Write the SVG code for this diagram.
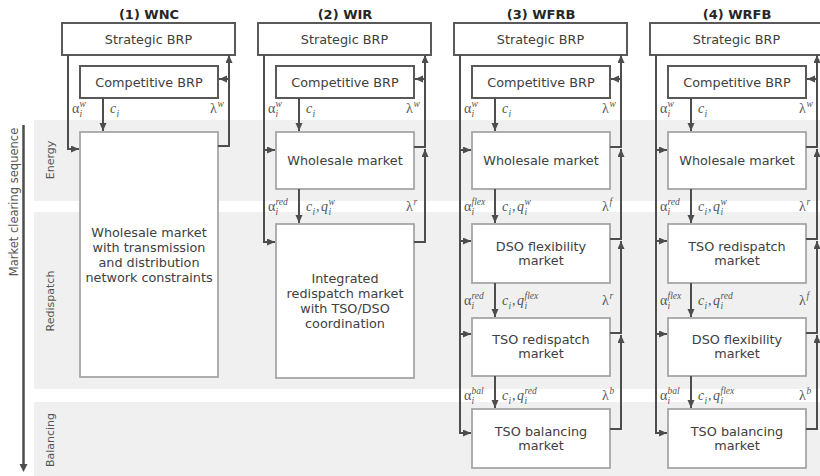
<svg xmlns="http://www.w3.org/2000/svg" width="820" height="476" viewBox="0 0 820 476">
  <defs>
    <style>
      .band { fill: #f0f0f0; }
      .brp { fill: #ffffff; stroke: #595959; stroke-width: 2; }
      .mk { fill: #ffffff; stroke: #a6a6a6; stroke-width: 1.8; }
      .t { font-family: "DejaVu Sans", Verdana, sans-serif; font-size: 12.8px; fill: #404040; text-anchor: middle; }
      .h { font-family: "DejaVu Sans", Verdana, sans-serif; font-size: 13px; font-weight: bold; fill: #262626; text-anchor: middle; }
      .side { font-family: "DejaVu Sans", Verdana, sans-serif; font-size: 11px; fill: #555555; text-anchor: middle; }
      .c { fill: none; stroke: #4d4d4d; stroke-width: 2; }
      .m { font-family: "Liberation Serif", "DejaVu Serif", serif; font-size: 14px; fill: #555555; }
      .sc { font-size: 9.5px; font-style: italic; }
      .it { font-style: italic; }
    </style>
    <marker id="arr" markerUnits="userSpaceOnUse" markerWidth="8" markerHeight="8" refX="8" refY="3.5" orient="auto">
      <path d="M0,0 L8,3.5 L0,7 z" fill="#4d4d4d"/>
    </marker>
  </defs>

  <!-- phase bands -->
  <g id="bands">
    <rect class="band" x="34" y="120" width="786" height="81"/>
    <rect class="band" x="34" y="212" width="786" height="177"/>
    <rect class="band" x="34" y="402" width="786" height="74"/>
  </g>

  <!-- sequence axis and phase labels -->
  <g id="axis">
    <line x1="23.5" y1="125" x2="23.5" y2="464" stroke="#4d4d4d" stroke-width="2.5"/>
    <path d="M19.5,464 L27.5,464 L23.5,472 z" fill="#4d4d4d"/>
    <text class="side" style="font-size:11.5px" transform="translate(17.5,202) rotate(-90)">Market clearing sequence</text>
    <text class="side" transform="translate(54,160) rotate(-90)">Energy</text>
    <text class="side" transform="translate(54,301) rotate(-90)">Redispatch</text>
    <text class="side" transform="translate(54,440) rotate(-90)">Balancing</text>
  </g>

  <!-- column titles -->
  <g id="titles">
    <text class="h" x="149" y="19">(1) WNC</text>
    <text class="h" x="345" y="19">(2) WIR</text>
    <text class="h" x="541" y="19">(3) WFRB</text>
    <text class="h" x="737" y="19">(4) WRFB</text>
  </g>

  <!-- (1) WNC -->
  <g id="wnc-strategic"><rect class="brp" x="62" y="23" width="173" height="32"/><text class="t" x="148.5" y="44">Strategic BRP</text></g>
  <g id="wnc-competitive"><rect class="brp" x="80" y="66" width="138" height="32"/><text class="t" x="149" y="87">Competitive BRP</text></g>
  <g id="wnc-market"><rect class="mk" x="80" y="132" width="138" height="245"/>
    <text class="t" x="149" y="237">Wholesale market</text>
    <text class="t" x="149" y="252">with transmission</text>
    <text class="t" x="149" y="267">and distribution</text>
    <text class="t" x="149" y="282">network constraints</text>
  </g>

  <!-- (2) WIR -->
  <g id="wir-strategic"><rect class="brp" x="258" y="23" width="173" height="32"/><text class="t" x="344.5" y="44">Strategic BRP</text></g>
  <g id="wir-competitive"><rect class="brp" x="276" y="66" width="138" height="32"/><text class="t" x="345" y="87">Competitive BRP</text></g>
  <g id="wir-wholesale"><rect class="mk" x="276" y="132" width="138" height="57"/><text class="t" x="345" y="165">Wholesale market</text></g>
  <g id="wir-integrated"><rect class="mk" x="276" y="224" width="138" height="154"/>
    <text class="t" x="345" y="283">Integrated</text>
    <text class="t" x="345" y="298">redispatch market</text>
    <text class="t" x="345" y="313">with TSO/DSO</text>
    <text class="t" x="345" y="328">coordination</text>
  </g>

  <!-- (3) WFRB -->
  <g id="wfrb-strategic"><rect class="brp" x="454" y="23" width="173" height="32"/><text class="t" x="540.5" y="44">Strategic BRP</text></g>
  <g id="wfrb-competitive"><rect class="brp" x="472" y="66" width="138" height="32"/><text class="t" x="541" y="87">Competitive BRP</text></g>
  <g id="wfrb-wholesale"><rect class="mk" x="472" y="132" width="138" height="57"/><text class="t" x="541" y="165">Wholesale market</text></g>
  <g id="wfrb-dso"><rect class="mk" x="472" y="224" width="138" height="59"/><text class="t" x="541" y="251">DSO flexibility</text><text class="t" x="541" y="265">market</text></g>
  <g id="wfrb-tso-red"><rect class="mk" x="472" y="318" width="138" height="58"/><text class="t" x="541" y="344">TSO redispatch</text><text class="t" x="541" y="358">market</text></g>
  <g id="wfrb-tso-bal"><rect class="mk" x="472" y="409" width="138" height="59"/><text class="t" x="541" y="436">TSO balancing</text><text class="t" x="541" y="450">market</text></g>

  <!-- (4) WRFB -->
  <g id="wrfb-strategic"><rect class="brp" x="650" y="23" width="173" height="32"/><text class="t" x="736.5" y="44">Strategic BRP</text></g>
  <g id="wrfb-competitive"><rect class="brp" x="668" y="66" width="138" height="32"/><text class="t" x="737" y="87">Competitive BRP</text></g>
  <g id="wrfb-wholesale"><rect class="mk" x="668" y="132" width="138" height="57"/><text class="t" x="737" y="165">Wholesale market</text></g>
  <g id="wrfb-tso-red"><rect class="mk" x="668" y="224" width="138" height="59"/><text class="t" x="737" y="251">TSO redispatch</text><text class="t" x="737" y="265">market</text></g>
  <g id="wrfb-dso"><rect class="mk" x="668" y="318" width="138" height="58"/><text class="t" x="737" y="344">DSO flexibility</text><text class="t" x="737" y="358">market</text></g>
  <g id="wrfb-tso-bal"><rect class="mk" x="668" y="409" width="138" height="59"/><text class="t" x="737" y="436">TSO balancing</text><text class="t" x="737" y="450">market</text></g>

  <!-- connectors -->
  <g id="connectors" class="c" marker-end="url(#arr)">
    <!-- (1) -->
    <path d="M103,98 V131"/>
    <path d="M68,55 V149 H79"/>
    <path d="M218,146 H229 V55"/>
    <path d="M229,79 H219"/>
    <!-- (2) -->
    <path d="M299,98 V131"/>
    <path d="M299,189 V223"/>
    <path d="M264,55 V242 H275"/>
    <path d="M264,150 H275"/>
    <path d="M414,147 H425 V55"/>
    <path d="M425,79 H415"/>
    <path d="M414,242 H425 V149"/>
    <!-- (3) -->
    <path d="M495,98 V131"/>
    <path d="M495,189 V223"/>
    <path d="M495,283 V317"/>
    <path d="M495,376 V408"/>
    <path d="M460,55 V433 H471"/>
    <path d="M460,150 H471"/>
    <path d="M460,241 H471"/>
    <path d="M460,334 H471"/>
    <path d="M610,147 H621 V55"/>
    <path d="M621,79 H611"/>
    <path d="M610,239 H621 V149"/>
    <path d="M610,333 H621 V241"/>
    <path d="M610,429 H621 V335"/>
    <!-- (4) -->
    <path d="M691,98 V131"/>
    <path d="M691,189 V223"/>
    <path d="M691,283 V317"/>
    <path d="M691,376 V408"/>
    <path d="M656,55 V433 H667"/>
    <path d="M656,150 H667"/>
    <path d="M656,241 H667"/>
    <path d="M656,334 H667"/>
    <path d="M806,147 H817 V55"/>
    <path d="M817,79 H807"/>
    <path d="M806,239 H817 V149"/>
    <path d="M806,333 H817 V241"/>
    <path d="M806,429 H817 V335"/>
  </g>

  <!-- connector labels -->
  <g id="labels">
    <!-- (1) -->
    <text class="m" y="113"><tspan x="72">α</tspan><tspan class="sc" x="79.5" y="106.5">w</tspan><tspan class="sc" x="79.5" y="117">i</tspan></text>
    <text class="m" y="113"><tspan class="it" x="110">c</tspan><tspan class="sc" x="116.5" y="117">i</tspan></text>
    <text class="m" y="113"><tspan x="210">λ</tspan><tspan class="sc" x="217.5" y="106.5">w</tspan></text>

    <!-- (2) -->
    <text class="m" y="113"><tspan x="268">α</tspan><tspan class="sc" x="275.5" y="106.5">w</tspan><tspan class="sc" x="275.5" y="117">i</tspan></text>
    <text class="m" y="113"><tspan class="it" x="306">c</tspan><tspan class="sc" x="312.5" y="117">i</tspan></text>
    <text class="m" y="113"><tspan x="406">λ</tspan><tspan class="sc" x="413.5" y="106.5">w</tspan></text>

    <text class="m" y="211"><tspan x="268">α</tspan><tspan class="sc" x="275.5" y="204.5">red</tspan><tspan class="sc" x="275.5" y="215">i</tspan></text>
    <text class="m" y="211"><tspan class="it" x="306">c</tspan><tspan class="sc" x="312.5" y="215">i</tspan><tspan x="316" y="211">,</tspan><tspan class="it" x="321" y="211">q</tspan><tspan class="sc" x="328.5" y="204.5">w</tspan><tspan class="sc" x="328.5" y="215">i</tspan></text>
    <text class="m" y="211"><tspan x="406">λ</tspan><tspan class="sc" x="413.5" y="204.5">r</tspan></text>

    <!-- (3) -->
    <text class="m" y="113"><tspan x="464">α</tspan><tspan class="sc" x="471.5" y="106.5">w</tspan><tspan class="sc" x="471.5" y="117">i</tspan></text>
    <text class="m" y="113"><tspan class="it" x="502">c</tspan><tspan class="sc" x="508.5" y="117">i</tspan></text>
    <text class="m" y="113"><tspan x="602">λ</tspan><tspan class="sc" x="609.5" y="106.5">w</tspan></text>

    <text class="m" y="211"><tspan x="464">α</tspan><tspan class="sc" x="471.5" y="204.5">flex</tspan><tspan class="sc" x="471.5" y="215">i</tspan></text>
    <text class="m" y="211"><tspan class="it" x="502">c</tspan><tspan class="sc" x="508.5" y="215">i</tspan><tspan x="512" y="211">,</tspan><tspan class="it" x="517" y="211">q</tspan><tspan class="sc" x="524.5" y="204.5">w</tspan><tspan class="sc" x="524.5" y="215">i</tspan></text>
    <text class="m" y="211"><tspan x="602">λ</tspan><tspan class="sc" x="609.5" y="204.5">f</tspan></text>

    <text class="m" y="305"><tspan x="464">α</tspan><tspan class="sc" x="471.5" y="298.5">red</tspan><tspan class="sc" x="471.5" y="309">i</tspan></text>
    <text class="m" y="305"><tspan class="it" x="502">c</tspan><tspan class="sc" x="508.5" y="309">i</tspan><tspan x="512" y="305">,</tspan><tspan class="it" x="517" y="305">q</tspan><tspan class="sc" x="524.5" y="298.5">flex</tspan><tspan class="sc" x="524.5" y="309">i</tspan></text>
    <text class="m" y="305"><tspan x="602">λ</tspan><tspan class="sc" x="609.5" y="298.5">r</tspan></text>

    <text class="m" y="400"><tspan x="464">α</tspan><tspan class="sc" x="471.5" y="393.5">bal</tspan><tspan class="sc" x="471.5" y="404">i</tspan></text>
    <text class="m" y="400"><tspan class="it" x="502">c</tspan><tspan class="sc" x="508.5" y="404">i</tspan><tspan x="512" y="400">,</tspan><tspan class="it" x="517" y="400">q</tspan><tspan class="sc" x="524.5" y="393.5">red</tspan><tspan class="sc" x="524.5" y="404">i</tspan></text>
    <text class="m" y="400"><tspan x="602">λ</tspan><tspan class="sc" x="609.5" y="393.5">b</tspan></text>

    <!-- (4) -->
    <text class="m" y="113"><tspan x="660">α</tspan><tspan class="sc" x="667.5" y="106.5">w</tspan><tspan class="sc" x="667.5" y="117">i</tspan></text>
    <text class="m" y="113"><tspan class="it" x="698">c</tspan><tspan class="sc" x="704.5" y="117">i</tspan></text>
    <text class="m" y="113"><tspan x="799">λ</tspan><tspan class="sc" x="806.5" y="106.5">w</tspan></text>

    <text class="m" y="211"><tspan x="660">α</tspan><tspan class="sc" x="667.5" y="204.5">red</tspan><tspan class="sc" x="667.5" y="215">i</tspan></text>
    <text class="m" y="211"><tspan class="it" x="698">c</tspan><tspan class="sc" x="704.5" y="215">i</tspan><tspan x="708" y="211">,</tspan><tspan class="it" x="713" y="211">q</tspan><tspan class="sc" x="720.5" y="204.5">w</tspan><tspan class="sc" x="720.5" y="215">i</tspan></text>
    <text class="m" y="211"><tspan x="799">λ</tspan><tspan class="sc" x="806.5" y="204.5">r</tspan></text>

    <text class="m" y="305"><tspan x="660">α</tspan><tspan class="sc" x="667.5" y="298.5">flex</tspan><tspan class="sc" x="667.5" y="309">i</tspan></text>
    <text class="m" y="305"><tspan class="it" x="698">c</tspan><tspan class="sc" x="704.5" y="309">i</tspan><tspan x="708" y="305">,</tspan><tspan class="it" x="713" y="305">q</tspan><tspan class="sc" x="720.5" y="298.5">red</tspan><tspan class="sc" x="720.5" y="309">i</tspan></text>
    <text class="m" y="305"><tspan x="799">λ</tspan><tspan class="sc" x="806.5" y="298.5">f</tspan></text>

    <text class="m" y="400"><tspan x="660">α</tspan><tspan class="sc" x="667.5" y="393.5">bal</tspan><tspan class="sc" x="667.5" y="404">i</tspan></text>
    <text class="m" y="400"><tspan class="it" x="698">c</tspan><tspan class="sc" x="704.5" y="404">i</tspan><tspan x="708" y="400">,</tspan><tspan class="it" x="713" y="400">q</tspan><tspan class="sc" x="720.5" y="393.5">flex</tspan><tspan class="sc" x="720.5" y="404">i</tspan></text>
    <text class="m" y="400"><tspan x="799">λ</tspan><tspan class="sc" x="806.5" y="393.5">b</tspan></text>
  </g>
</svg>
